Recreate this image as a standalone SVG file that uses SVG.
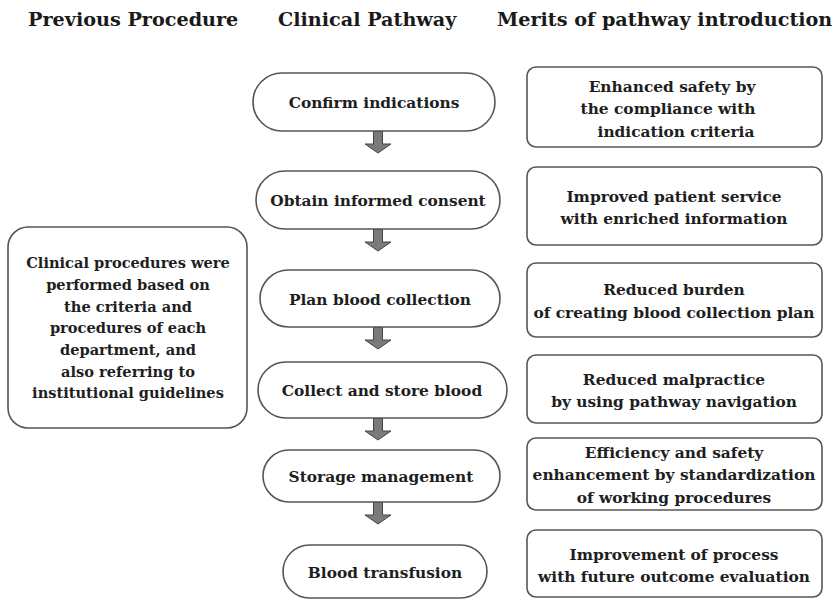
<svg xmlns="http://www.w3.org/2000/svg" width="838" height="599" viewBox="0 0 838 599">
<style>
.hdr{font-family:"DejaVu Serif","Liberation Serif",serif;font-weight:bold;font-size:19.2px;fill:#1a1a1a}
.t{font-family:"DejaVu Serif","Liberation Serif",serif;font-weight:bold;font-size:14.6px;fill:#1e1e1e;text-anchor:middle}
.t2{font-family:"DejaVu Serif","Liberation Serif",serif;font-weight:bold;font-size:15.4px;fill:#1e1e1e;text-anchor:middle}
.box{fill:#fff;stroke:#555;stroke-width:1.6}
.arr{fill:#7a7a7a;stroke:#444;stroke-width:1}
</style>
<defs>
<path id="arrow" d="M-4.5,0 H4.5 V13 H13 L0,22 L-13,13 H-4.5 Z"/>
</defs>
<rect width="838" height="599" fill="#fff"/>
<g id="headers">
<text class="hdr" x="28" y="26">Previous Procedure</text>
<text class="hdr" x="278" y="26">Clinical Pathway</text>
<text class="hdr" x="497" y="26">Merits of pathway introduction</text>
</g>
<g id="prev">
<rect class="box" x="8" y="227" width="239" height="201" rx="20"/>
<text class="t" x="128" y="268">Clinical procedures were</text>
<text class="t" x="128" y="290">performed based on</text>
<text class="t" x="128" y="312">the criteria and</text>
<text class="t" x="128" y="333">procedures of each</text>
<text class="t" x="128" y="355">department, and</text>
<text class="t" x="128" y="377">also referring to</text>
<text class="t" x="128" y="398">institutional guidelines</text>
</g>
<g id="connectors">
<use href="#arrow" class="arr" x="378" y="131"/>
<use href="#arrow" class="arr" x="378" y="229"/>
<use href="#arrow" class="arr" x="378" y="327"/>
<use href="#arrow" class="arr" x="378" y="418"/>
<use href="#arrow" class="arr" x="378" y="502"/>
</g>
<g id="p1"><rect class="box" x="253" y="73" width="242" height="58" rx="29"/><text class="t2" x="374" y="108">Confirm indications</text></g>
<g id="p2"><rect class="box" x="256" y="171" width="244" height="58" rx="29"/><text class="t2" x="378" y="206">Obtain informed consent</text></g>
<g id="p3"><rect class="box" x="260" y="270" width="240" height="57" rx="28.5"/><text class="t2" x="380" y="305">Plan blood collection</text></g>
<g id="p4"><rect class="box" x="258" y="362" width="249" height="56" rx="28"/><text class="t2" x="382" y="396">Collect and store blood</text></g>
<g id="p5"><rect class="box" x="263" y="450" width="237" height="52" rx="26"/><text class="t2" x="381" y="482">Storage management</text></g>
<g id="p6"><rect class="box" x="283" y="545" width="204" height="53" rx="26.5"/><text class="t2" x="385" y="578">Blood transfusion</text></g>
<g id="m1"><rect class="box" x="527" y="67" width="295" height="80" rx="9"/>
<text class="t2" x="672" y="92">Enhanced safety by</text>
<text class="t2" x="668" y="114">the compliance with</text>
<text class="t2" x="676" y="137">indication criteria</text></g>
<g id="m2"><rect class="box" x="527" y="167" width="295" height="78" rx="9"/>
<text class="t2" x="674" y="202">Improved patient service</text>
<text class="t2" x="674" y="224">with enriched information</text></g>
<g id="m3"><rect class="box" x="527" y="263" width="295" height="74" rx="9"/>
<text class="t2" x="674" y="295">Reduced burden</text>
<text class="t2" x="674" y="318">of creating blood collection plan</text></g>
<g id="m4"><rect class="box" x="527" y="355" width="295" height="68" rx="9"/>
<text class="t2" x="674" y="385">Reduced malpractice</text>
<text class="t2" x="674" y="407">by using pathway navigation</text></g>
<g id="m5"><rect class="box" x="527" y="438" width="295" height="72" rx="9"/>
<text class="t2" x="674" y="458">Efficiency and safety</text>
<text class="t2" x="674" y="480">enhancement by standardization</text>
<text class="t2" x="674" y="503">of working procedures</text></g>
<g id="m6"><rect class="box" x="527" y="530" width="295" height="67" rx="9"/>
<text class="t2" x="674" y="560">Improvement of process</text>
<text class="t2" x="674" y="582">with future outcome evaluation</text></g>
</svg>
